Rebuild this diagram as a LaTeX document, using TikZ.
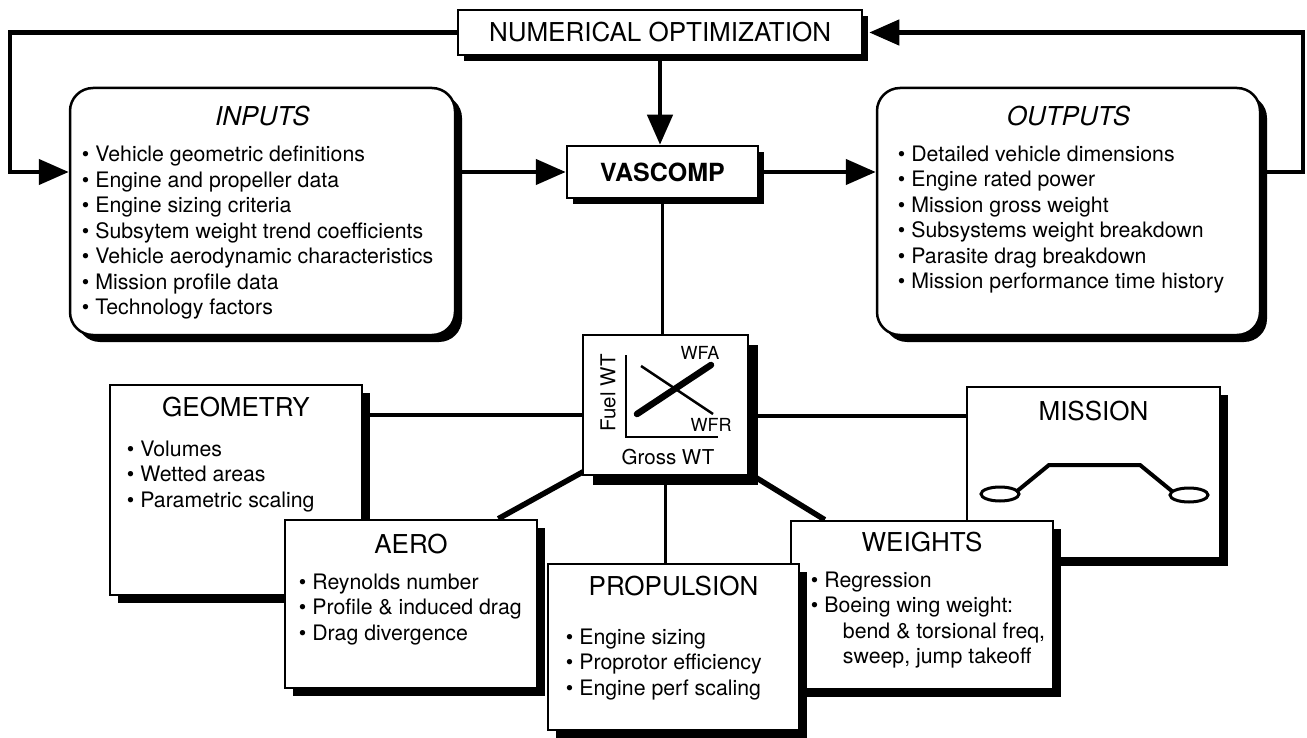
\documentclass[tikz,border=0pt]{standalone}
\usepackage{fontspec}
\setmainfont{TeX Gyre Heros}
\usetikzlibrary{arrows.meta,shadows,backgrounds}

\begin{document}
\begin{tikzpicture}[
    x=1pt, y=-1pt,
    frame/.style={rectangle, draw=black, line width=2.5pt, fill=white, inner sep=0pt,
        drop shadow={shadow xshift=#1, shadow yshift=-#1, fill=black, opacity=1}},
    frame/.default=8pt,
    bigbox/.style={frame=7pt, rounded corners=23pt, minimum width=385pt, minimum height=247pt},
    ttl/.style={inner sep=0pt, font=\fontsize{26}{30}\selectfont},
    lst/.style={inner sep=0pt, align=left, anchor=north west, font=\fontsize{21.3}{25.5}\selectfont},
    lbl/.style={inner sep=0pt, font=\fontsize{20.5}{24}\selectfont},
    flow/.style={-{Triangle[length=30pt, width=25pt]}, line width=4.5pt},
    link/.style={line width=3.5pt},
    heavylink/.style={line width=5.5pt}
]
\useasboundingbox (0,0) rectangle (1307,738);

\node[frame=6pt, minimum width=404pt, minimum height=45pt, font=\fontsize{26}{30}\selectfont] (numopt) at (660,32.5) {NUMERICAL OPTIMIZATION};
\node[frame=6pt, minimum width=191pt, minimum height=52pt, font=\bfseries\fontsize{25}{30}\selectfont] (vascomp) at (662.5,172) {VASCOMP};

\node[bigbox] (inputs) at (262.5,211.5) {};
\node[ttl] (inputsT) at ([yshift=-29pt]inputs.north) {\itshape INPUTS};
\node[lst] (inputsL) at ([shift={(13pt,-59pt)}]inputs.north west) {• Vehicle geometric definitions\\• Engine and propeller data\\• Engine sizing criteria\\• Subsytem weight trend coefficients\\• Vehicle aerodynamic characteristics\\• Mission profile data\\• Technology factors};

\node[bigbox, minimum width=383pt] (outputs) at (1068.5,211.5) {};
\node[ttl] (outputsT) at ([yshift=-29pt]outputs.north) {\itshape OUTPUTS};
\node[lst] (outputsL) at ([shift={(22pt,-59pt)}]outputs.north west) {• Detailed vehicle dimensions\\• Engine rated power\\• Mission gross weight\\• Subsystems weight breakdown\\• Parasite drag breakdown\\• Mission performance time history};

\node[frame=10pt, minimum width=165pt, minimum height=140pt] (chart) at (665.5,405) {};
\begin{scope}[shift={(chart.center)}]
\draw[line width=2pt] (-39.5,-50) -- (-39.5,32) -- (52.5,32);
\draw[line width=2.5pt] (-24.5,-39) -- (47.5,9);
\draw[line width=6.5pt, line cap=round] (-28.5,9) -- (45.5,-40);
\node[lbl, font=\fontsize{18}{20}\selectfont] (wfa) at (34.5,-52) {WFA};
\node[lbl, font=\fontsize{18}{20}\selectfont] (wfr) at (45.5,20) {WFR};
\node[lbl, rotate=90] (fuel) at (-57.5,-12) {Fuel WT};
\node[lbl] (gross) at (2.5,52) {Gross WT};
\end{scope}

\node[frame, minimum width=252pt, minimum height=210pt] (geo) at (236,490) {};
\node[ttl] (geoT) at ([yshift=-23pt]geo.north) {GEOMETRY};
\node[lst] (geoL) at ([shift={(18pt,-57pt)}]geo.north west) {• Volumes\\• Wetted areas\\• Parametric scaling};

\node[frame, minimum width=252pt, minimum height=168pt] (aero) at (411,604) {};
\node[ttl] (aeroT) at ([yshift=-25pt]aero.north) {AERO};
\node[lst] (aeroL) at ([shift={(15pt,-55pt)}]aero.north west) {• Reynolds number\\• Profile \& induced drag\\• Drag divergence};

\node[frame, minimum width=253pt, minimum height=171pt] (mission) at (1093.5,472.5) {};
\node[ttl] (missionT) at ([yshift=-25pt]mission.north) {MISSION};
\begin{scope}[shift={(mission.center)}]
\draw[line width=3pt] (-93.5,21.5) ellipse [x radius=19pt, y radius=7pt];
\draw[line width=3pt] (95.5,22.5) ellipse [x radius=19pt, y radius=7pt];
\draw[line width=4pt] (-77.5,19.5) -- (-44.5,-7.5) -- (46.5,-7.5) -- (79.5,19.5);
\end{scope}

\node[frame, minimum width=262pt, minimum height=168pt] (weights) at (922,605) {};
\node[ttl] (weightsT) at ([yshift=-22pt]weights.north) {WEIGHTS};
\node[lst] (weightsL) at ([shift={(21pt,-52pt)}]weights.north west) {• Regression\\• Boeing wing weight:\\\hspace*{32pt}bend \& torsional freq,\\\hspace*{32pt}sweep, jump takeoff};

\node[frame, minimum width=251pt, minimum height=166pt] (prop) at (673.5,647) {};
\node[ttl] (propT) at ([yshift=-23pt]prop.north) {PROPULSION};
\node[lst] (propL) at ([shift={(19pt,-66pt)}]prop.north west) {• Engine sizing\\• Proprotor efficiency\\• Engine perf scaling};

\coordinate (lcorner) at (10,32.5);
\coordinate (rcorner) at (1303,32.5);
\draw[flow] (numopt.west) -- (lcorner) |- (inputs.west |- vascomp);
\draw[flow] (outputs.east |- vascomp) -| (rcorner) -- ([xshift=6pt]numopt.east);
\draw[flow] (numopt.south) -- (numopt.south |- vascomp.north);
\draw[flow] (inputs.east |- vascomp) -- (vascomp.west);
\draw[flow] (vascomp.east) -- (outputs.west |- vascomp);

\begin{scope}[on background layer]
\draw[link] (vascomp) -- (vascomp |- chart);
\draw[link] ([yshift=-10pt]chart.center) -- ([yshift=-10pt]chart.center -| geo);
\draw[link] ([yshift=-11pt]chart.center) -- ([yshift=-11pt]chart.center -| mission);
\draw[link] (chart) -- (chart |- prop);
\draw[heavylink] ([xshift=-40pt]aero.north east) -- ([shift={(15pt,12pt)}]chart.south west);
\draw[heavylink] ([xshift=35pt]weights.north west) -- ([shift={(-15pt,12pt)}]chart.south east);
\end{scope}
\end{tikzpicture}
\end{document}
